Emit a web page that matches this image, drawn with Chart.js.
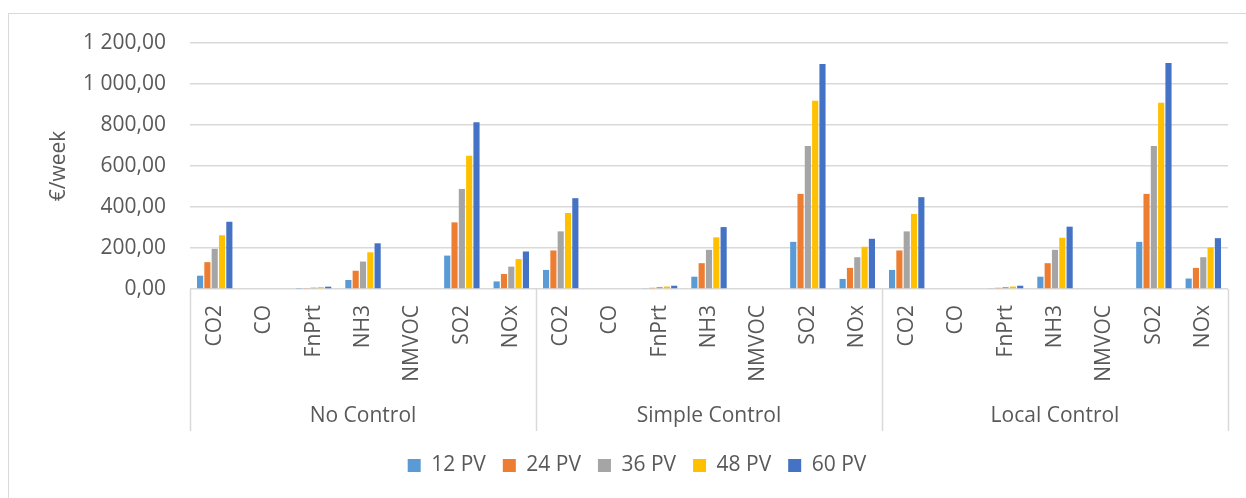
<!DOCTYPE html>
<html>
<head>
<meta charset="utf-8">
<script src="https://cdn.jsdelivr.net/npm/chart.js@4"></script>
<style>
  html, body { margin: 0; padding: 0; background: #fff; overflow: hidden; width: 1246px; height: 498px; }
  #frame { position: absolute; left: 8px; top: 13px; width: 1400px; height: 600px; border-left: 1px solid #d9d9d9; border-top: 1px solid #d9d9d9; }
  #chart { position: absolute; left: 0; top: 0; }
</style>
</head>
<body>
<div id="frame"></div>
<canvas id="chart" width="1274" height="498" style="width:1274px;height:498px"></canvas>
<script>
// --- data ---
const pollutants = ['CO2', 'CO', 'FnPrt', 'NH3', 'NMVOC', 'SO2', 'NOx'];
const groups = ['No Control', 'Simple Control', 'Local Control'];
const seriesNames = ['12 PV', '24 PV', '36 PV', '48 PV', '60 PV'];
const seriesColors = ['#5B9BD5', '#ED7D31', '#A5A5A5', '#FFC000', '#4472C4'];
const yTicks = [0, 200, 400, 600, 800, 1000, 1200];

// values per series: No Control | Simple Control | Local Control
// (CO and NMVOC read as 0 at this scale)
const pv12 = [65, 0, 2.3, 44, 0, 163, 37,    93, 0, 3, 60, 0, 230, 49,     93, 0, 3, 60, 0, 230, 51];
const pv24 = [131, 0, 4.6, 89, 0, 325, 73,   188, 0, 6, 126, 0, 464, 103,  188, 0, 6, 126, 0, 464, 103];
const pv36 = [196, 0, 6.9, 134, 0, 488, 109, 281, 0, 10, 191, 0, 698, 155, 281, 0, 10, 191, 0, 698, 155];
const pv48 = [262, 0, 9.1, 179, 0, 650, 146, 371, 0, 12, 252, 0, 918, 206, 366, 0, 12, 250, 0, 908, 203];
const pv60 = [328, 0, 11.4, 223, 0, 813, 183, 443, 0, 16, 302, 0, 1098, 245, 448, 0, 16, 304, 0, 1103, 248];
const seriesValues = [pv12, pv24, pv36, pv48, pv60];

const labels = groups.flatMap(() => pollutants);
const FONT = "'Open Sans', sans-serif";
const TXT = '#595959';
const GRID = '#d9d9d9';
const PAD = { left: 46, right: 46, top: 43, bottom: 12 };
const PLOT_LEFT = 190, PLOT_BOTTOM = 289;

const fmt = v => {
    const s = v.toFixed(2).replace('.', ',');
    const [i, d] = s.split(',');
    return i.replace(/\B(?=(\d{3})+(?!\d))/g, ' ') + ',' + d;
};

// group labels + separators under the category labels
const groupAxis = {
    id: 'groupAxis',
    afterDraw(chart) {
        const { ctx, chartArea } = chart;
        const x = chart.scales.x;
        const per = pollutants.length;
        const w = (x.right - x.left) / labels.length;
        const y0 = chartArea.bottom, y1 = chartArea.bottom + 142;
        ctx.save();
        ctx.strokeStyle = GRID;
        ctx.lineWidth = 1.5;
        for (let g = 0; g <= groups.length; g++) {
            const idx = Math.min(g * per, labels.length - 1);
            let px = x.getPixelForValue(idx) + (g * per >= labels.length ? w / 2 : -w / 2);
            px = Math.round(px) + 0.5;
            ctx.beginPath();
            ctx.moveTo(px, y0);
            ctx.lineTo(px, y1);
            ctx.stroke();
        }
        ctx.fillStyle = TXT;
        ctx.font = `21px ${FONT}`;
        ctx.textAlign = 'center';
        ctx.textBaseline = 'middle';
        groups.forEach((g, i) => {
            const a = x.getPixelForValue(i * per) - w / 2;
            const b = x.getPixelForValue(i * per + per - 1) + w / 2;
            ctx.fillText(g, (a + b) / 2, y0 + 127);
        });
        ctx.restore();
    }
};

new Chart(document.getElementById('chart').getContext('2d'), {
    type: 'bar',
    data: {
        labels: labels,
        datasets: seriesNames.map((name, i) => ({
            label: name,
            data: seriesValues[i],
            backgroundColor: seriesColors[i],
            borderWidth: 0,
            inflateAmount: 0,
            categoryPercentage: 0.74,
            barPercentage: 0.84
        }))
    },
    options: {
        responsive: false,
        animation: false,
        layout: { padding: PAD },
        scales: {
            x: {
                grid: { display: false, drawTicks: false },
                border: { display: false },
                ticks: {
                    autoSkip: false, minRotation: 90, maxRotation: 90, padding: 16,
                    color: TXT, font: { family: FONT, size: 21 }
                },
                afterFit(scale) {
                    const legendH = scale.chart.legend ? scale.chart.legend.height : 0;
                    scale.height = scale.chart.height - PAD.bottom - legendH - PLOT_BOTTOM;
                }
            },
            y: {
                min: 0, max: 1200,
                afterBuildTicks(scale) { scale.ticks = yTicks.map(v => ({ value: v })); },
                grid: { color: GRID, lineWidth: 1.5, drawTicks: false },
                border: { display: false },
                ticks: {
                    padding: 24, color: TXT, font: { family: FONT, size: 21 },
                    callback: v => fmt(v)
                },
                title: {
                    display: true, text: '€/week', color: TXT,
                    font: { family: FONT, size: 21 }, padding: { top: 0, bottom: 0 }
                },
                afterFit(scale) { scale.width = PLOT_LEFT - PAD.left; }
            }
        },
        plugins: {
            legend: {
                position: 'bottom',
                labels: {
                    boxWidth: 13, boxHeight: 13, padding: 17,
                    color: TXT, font: { family: FONT, size: 21 }
                }
            },
            tooltip: { enabled: false }
        }
    },
    plugins: [groupAxis]
});
</script>
</body>
</html>
